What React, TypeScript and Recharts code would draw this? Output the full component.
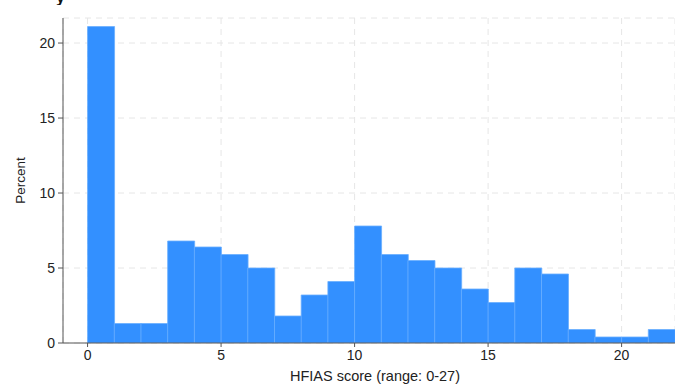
import { Bar, BarChart, CartesianGrid, Label, XAxis, YAxis } from "recharts";

// HFIAS score bins (width 1, drawn at bin middle) and percent of households
const binMids = [0.5, 1.5, 2.5, 3.5, 4.5, 5.5, 6.5, 7.5, 8.5, 9.5, 10.5, 11.5, 12.5, 13.5, 14.5, 15.5, 16.5, 17.5, 18.5, 19.5, 20.5, 21.5];
const percents = [21.1, 1.3, 1.3, 6.8, 6.4, 5.9, 5.0, 1.8, 3.2, 4.1, 7.8, 5.9, 5.5, 5.0, 3.6, 2.7, 5.0, 4.6, 0.9, 0.4, 0.4, 0.9];
const xTicks = [0, 5, 10, 15, 20];
const yTicks = [0, 5, 10, 15, 20];

const data = binMids.map((mid, i) => ({ mid, pct: percents[i] }));

const font = "'Liberation Sans', Arial, Helvetica, sans-serif";
const tick = { fontSize: 14, fill: "#222", fontFamily: font };

export default function App() {
  return (
    <div style={{ position: "absolute", left: 0, top: 0, width: 675, height: 385, background: "#fff", overflow: "hidden" }}>
      {/* title above the plot, mostly cropped out of the frame */}
      <div
        style={{
          position: "absolute",
          left: 56,
          top: -9,
          height: 14,
          fontFamily: font,
          fontWeight: 700,
          fontSize: 16,
          lineHeight: "14px",
          color: "#111",
          overflow: "hidden",
        }}
      >
        y
      </div>
      <BarChart
        width={675}
        height={385}
        data={data}
        margin={{ top: 18, right: 0, left: 0, bottom: 0 }}
        barCategoryGap={0}
        barGap={0}
      >
        <CartesianGrid stroke="#e6e6e6" strokeDasharray="6 5" />
        <XAxis
          dataKey="mid"
          type="number"
          domain={[-0.92, 22]}
          ticks={xTicks}
          allowDataOverflow
          height={42}
          tick={tick}
          tickSize={4}
          tickMargin={3}
          stroke="#555"
        >
          <Label
            value="HFIAS score (range: 0-27)"
            position="insideBottom"
            offset={4}
            dx={6}
            style={{ fontSize: 14.5, fill: "#222", fontFamily: font }}
          />
        </XAxis>
        <YAxis
          type="number"
          domain={[0, 21.67]}
          ticks={yTicks}
          allowDataOverflow
          width={63}
          tick={tick}
          tickSize={5}
          tickMargin={3}
          stroke="#555"
        >
          <Label
            value="Percent"
            angle={-90}
            position="insideLeft"
            offset={20}
            style={{ fontSize: 13.5, fill: "#222", fontFamily: font, textAnchor: "middle" }}
          />
        </YAxis>
        <Bar dataKey="pct" fill="#3390ff" stroke="#6aaeff" strokeWidth={0.8} isAnimationActive={false} />
      </BarChart>
    </div>
  );
}
